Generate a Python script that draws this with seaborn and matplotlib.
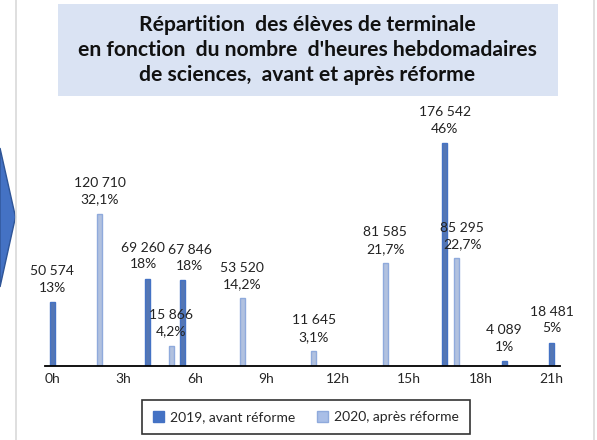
import matplotlib
matplotlib.use('Agg')
import matplotlib.pyplot as plt
import matplotlib.patches as mpatches
import pandas as pd
import seaborn as sns

# data
heures_2019 = [0, 4, 5.5, 16.5, 19, 21]
eleves_2019 = [50574, 69260, 67846, 176542, 4089, 18481]
pct_2019 = [13, 18, 18, 46, 1, 5]

heures_2020 = [2, 5, 8, 11, 14, 17]
eleves_2020 = [120710, 15866, 53520, 11645, 81585, 85295]
pct_2020 = [32.1, 4.2, 14.2, 3.1, 21.7, 22.7]

series = ['2019, avant réforme', '2020, après réforme']
ticks = [0, 3, 6, 9, 12, 15, 18, 21]
title = ("Répartition  des élèves de terminale\n"
         "en fonction  du nombre  d'heures hebdomadaires\n"
         "de sciences,  avant et après réforme")

# small horizontal nudges (points) so crowded labels don't collide
label_nudge = {69260: -3, 67846: 5, 85295: 4}

df = pd.concat([
    pd.DataFrame({'heures': heures_2019, 'eleves': eleves_2019, 'pct': pct_2019, 'serie': series[0]}),
    pd.DataFrame({'heures': heures_2020, 'eleves': eleves_2020, 'pct': pct_2020, 'serie': series[1]}),
], ignore_index=True)

sns.set_style('white')
plt.rcParams['font.family'] = ['Lato', 'DejaVu Sans']

dark = '#4472c4'
light = '#a9bee7'
palette = {series[0]: dark, series[1]: light}

fig = plt.figure(figsize=(5.97, 4.40), dpi=100)
W, H = 597, 440

# decorations: grey frame lines, left arrow, title box
fig.add_artist(plt.Line2D([16 / W, 16 / W], [0, 1], color='#d9d9d9', lw=1.2))
fig.add_artist(plt.Line2D([594 / W, 594 / W], [0, 1], color='#d9d9d9', lw=1.2))
arrow = mpatches.Polygon([(0, 1 - 148 / H), (15.5 / W, 1 - 217 / H), (0, 1 - 287 / H)],
                         closed=True, transform=fig.transFigure, facecolor=dark,
                         edgecolor='#2f5597', lw=1)
fig.add_artist(arrow)
box = mpatches.Rectangle((58 / W, 1 - 96 / H), 500 / W, 92 / H, transform=fig.transFigure,
                         facecolor='#dae3f3', edgecolor='none')
fig.add_artist(box)
fig.text(307 / W, 1 - 50 / H, title, ha='center', va='center', fontsize=15.2,
         fontweight='bold', linespacing=1.33, color='#111111')

ax = fig.add_axes([45 / W, 74 / H, 515 / W, 265 / H])
sns.barplot(data=df, x='heures', y='eleves', hue='serie', palette=palette,
            native_scale=True, dodge=False, width=0.42, errorbar=None,
            ax=ax, legend=False, linewidth=1)
for patch, edge in zip(ax.patches, [dark] * 6 + ['#8faadc'] * 6):
    patch.set_edgecolor(edge)

for _, row in df.iterrows():
    p = row['pct']
    p_txt = f"{int(p)}%" if float(p).is_integer() else f"{p:.1f}%".replace('.', ',')
    n_txt = f"{int(row['eleves']):,}".replace(',', ' ')
    dx = label_nudge.get(int(row['eleves']), 0)
    ax.annotate(f"{n_txt}\n{p_txt}", (row['heures'], row['eleves']), xytext=(dx, 6),
                textcoords='offset points', ha='center', va='bottom', fontsize=10,
                linespacing=1.45, color='#222222')

ax.set_xlim(-0.3, 21.35)
ax.set_ylim(0, 210000)
ax.set_xticks(ticks)
ax.set_xticklabels([f"{t}h" for t in ticks], fontsize=10)
ax.tick_params(axis='x', length=0, pad=5)
ax.set_yticks([])
ax.set_xlabel('')
ax.set_ylabel('')
sns.despine(ax=ax, left=True)
ax.spines['bottom'].set_color('black')
ax.spines['bottom'].set_linewidth(1.3)
ax.patch.set_alpha(0)

handles = [mpatches.Patch(facecolor=dark, edgecolor=dark, label=series[0]),
           mpatches.Patch(facecolor=light, edgecolor='#8faadc', label=series[1])]
leg = fig.legend(handles=handles, loc='center', bbox_to_anchor=(306 / W, 1 - 417 / H),
                 ncol=2, fontsize=10, frameon=True, fancybox=False, edgecolor='black',
                 handlelength=0.8, handleheight=0.8, columnspacing=1.6,
                 borderpad=0.5, handletextpad=0.4)
leg.get_frame().set_linewidth(1.2)
leg.get_frame().set_boxstyle('square', pad=0.3)

fig.savefig('out.png', dpi=100)
